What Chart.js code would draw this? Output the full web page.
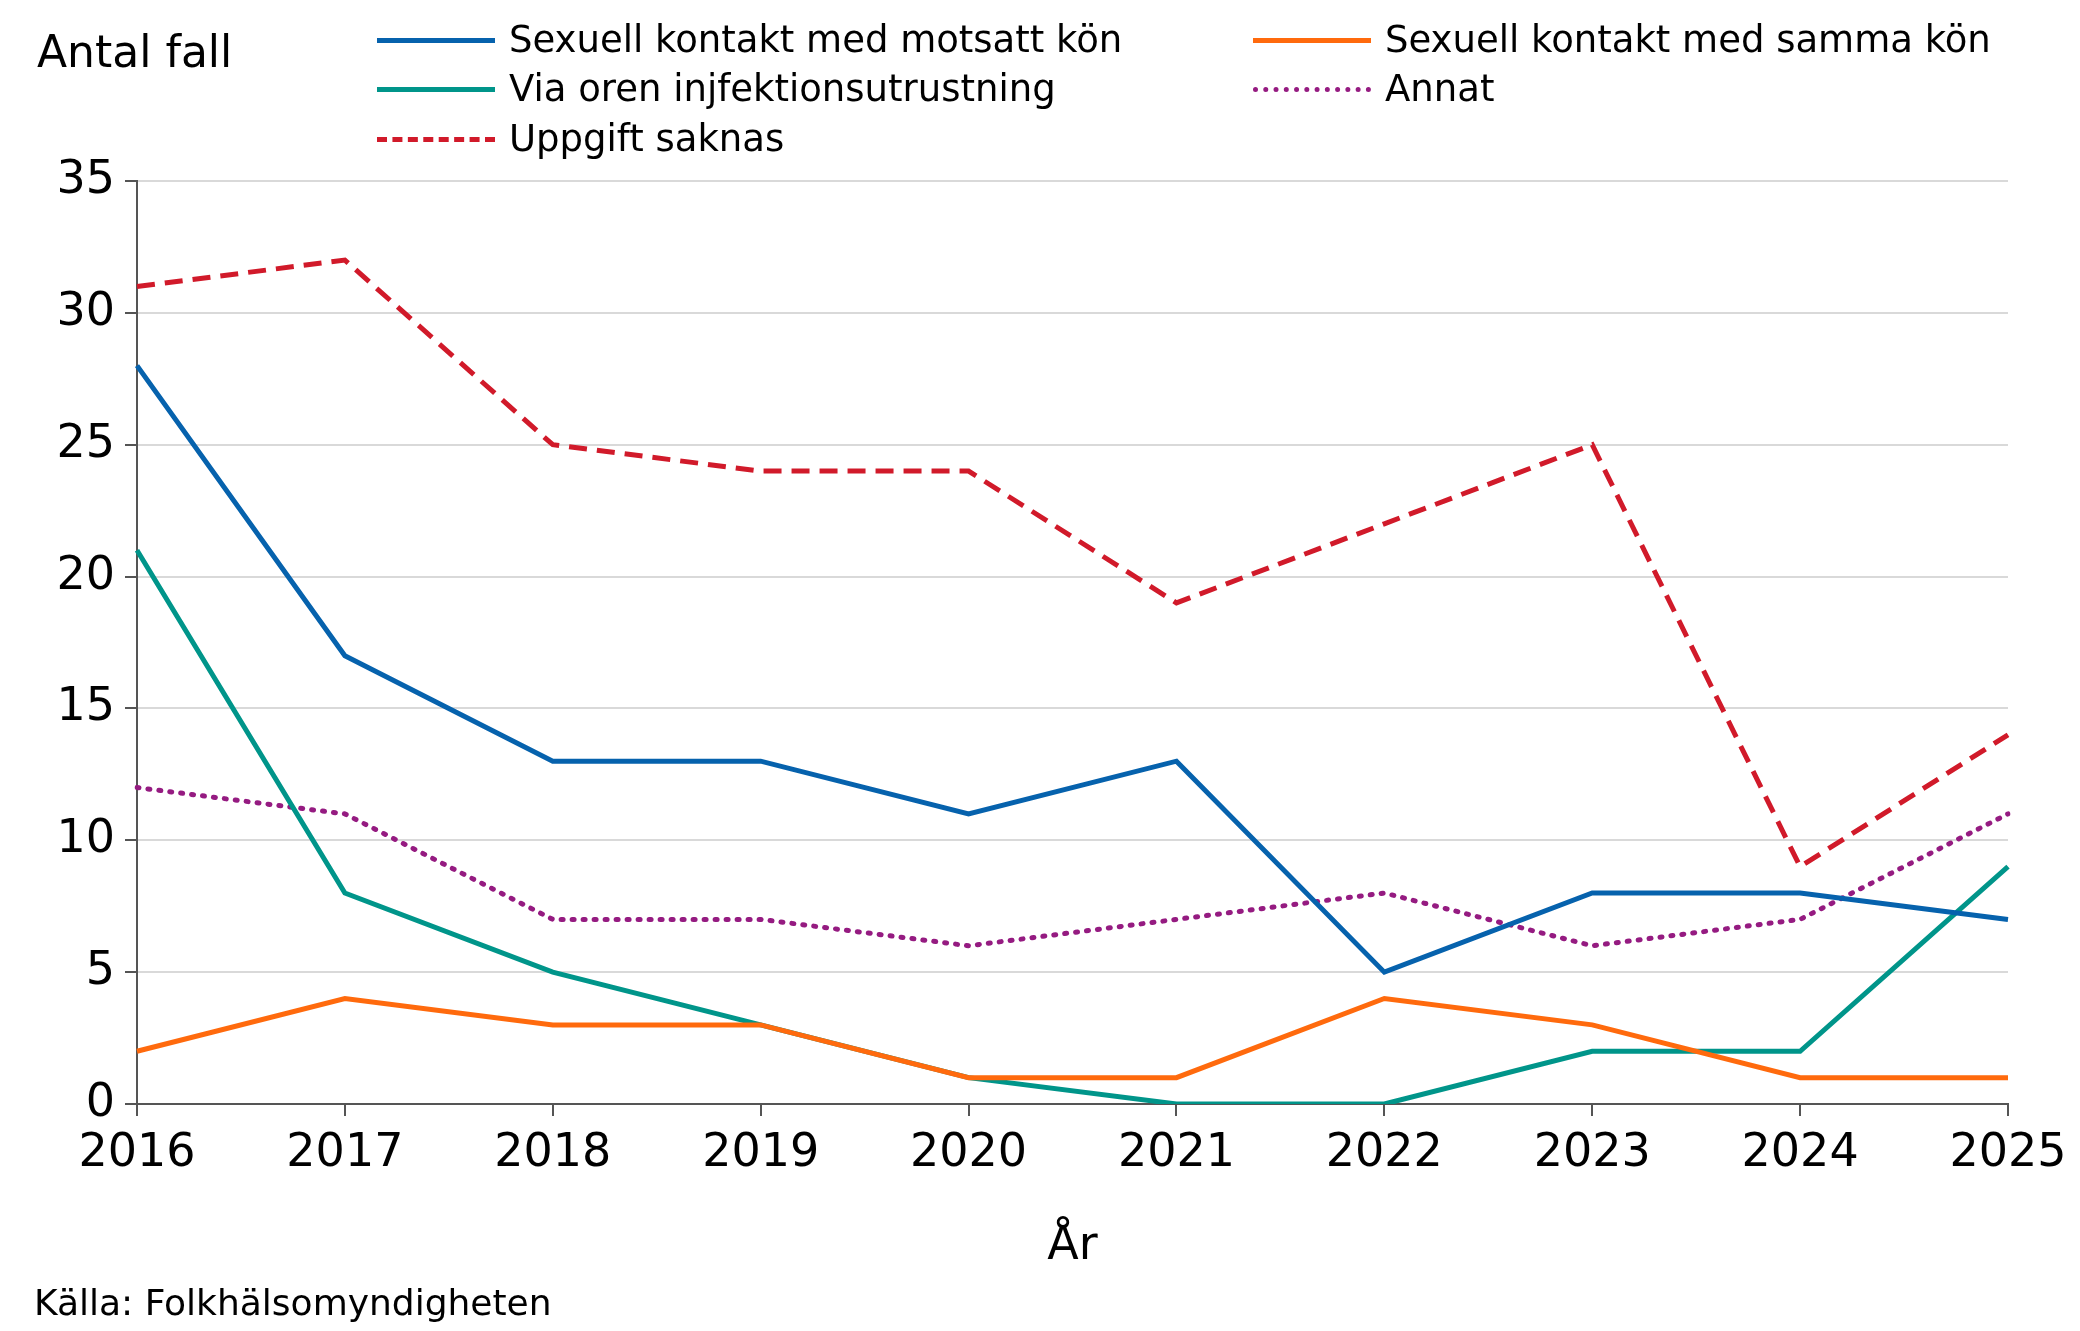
<!DOCTYPE html>
<html>
<head>
<meta charset="utf-8">
<script src="https://cdn.jsdelivr.net/npm/chart.js@4"></script>
<style>
  body { margin: 0; background: #fff; font-family: "DejaVu Sans", sans-serif; }
  #wrap { position: relative; width: 2080px; height: 1331px; }
  canvas { position: absolute; left: 0; top: 0; }
  .txt { position: absolute; color: #000; white-space: nowrap; line-height: 1; }
  .leg { position: absolute; font-size: 37px; line-height: 1; white-space: nowrap; }
  .leg span.line { position: absolute; top: 50%; height: 0; width: 118px; left: 0; }
  .leg span.lab { position: absolute; left: 132px; top: -19px; }
</style>
</head>
<body>
<div id="wrap">
  <canvas id="c" width="2080" height="1331"></canvas>
  <div class="txt" style="left:37px;top:30px;font-size:44px;">Antal fall</div>
  <div id="legend"></div>
  <div class="txt" style="left:34px;top:1285px;font-size:36px;">Källa: Folkhälsomyndigheten</div>
</div>
<script>
// Data
const years = ['2016', '2017', '2018', '2019', '2020', '2021', '2022', '2023', '2024', '2025'];
const motsattKon = [28, 17, 13, 13, 11, 13, 5, 8, 8, 7];
const sammaKon = [2, 4, 3, 3, 1, 1, 4, 3, 1, 1];
const injektion = [21, 8, 5, 3, 1, 0, 0, 2, 2, 9];
const annat = [12, 11, 7, 7, 6, 7, 8, 6, 7, 11];
const uppgiftSaknas = [31, 32, 25, 24, 24, 19, 22, 25, 9, 14];

const series = [
  { label: 'Sexuell kontakt med motsatt kön', data: motsattKon, color: '#0662ad', dash: [], css: 'solid', x: 377, y: 40 },
  { label: 'Sexuell kontakt med samma kön', data: sammaKon, color: '#ff6a0d', dash: [], css: 'solid', x: 1253, y: 40 },
  { label: 'Via oren injfektionsutrustning', data: injektion, color: '#00958a', dash: [], css: 'solid', x: 377, y: 89 },
  { label: 'Annat', data: annat, color: '#951b81', dash: [2, 9], css: 'dotted', x: 1253, y: 89 },
  { label: 'Uppgift saknas', data: uppgiftSaknas, color: '#d11a2a', dash: [18, 10], css: 'dashed', x: 377, y: 139 }
];

// HTML legend
const legend = document.getElementById('legend');
series.forEach(s => {
  const d = document.createElement('div');
  d.className = 'leg';
  d.style.left = s.x + 'px';
  d.style.top = s.y + 'px';
  d.innerHTML = `<span class="line" style="border-top:5px ${s.css} ${s.color};margin-top:-2px"></span><span class="lab">${s.label}</span>`;
  legend.appendChild(d);
});

const FONT = '"DejaVu Sans", sans-serif';

new Chart(document.getElementById('c'), {
  type: 'line',
  data: {
    labels: years,
    datasets: series.map(s => ({
      label: s.label,
      data: s.data,
      borderColor: s.color,
      backgroundColor: s.color,
      borderWidth: 5,
      borderDash: s.dash,
      borderCapStyle: s.css === 'dotted' ? 'round' : 'butt',
      pointRadius: 0,
      tension: 0
    }))
  },
  options: {
    responsive: false,
    animation: false,
    layout: { padding: { left: 0, right: 72, top: 181, bottom: 52 } },
    plugins: { legend: { display: false }, tooltip: { enabled: false } },
    scales: {
      x: {
        offset: false,
        grid: { drawOnChartArea: false, color: '#555', tickLength: 12, lineWidth: 2 },
        border: { color: '#555', width: 2 },
        ticks: { color: '#000', font: { family: FONT, size: 46 }, padding: 10, maxRotation: 0, autoSkip: false },
        title: { display: true, text: 'År', color: '#000', font: { family: FONT, size: 46 }, padding: { top: 8 } },
        afterFit: a => { a.height = 175; }
      },
      y: {
        min: 0, max: 35,
        ticks: { stepSize: 5, color: '#000', font: { family: FONT, size: 46 }, padding: 10 },
        grid: { color: '#d9d9d9', lineWidth: 2, tickLength: 12, tickColor: '#555' },
        border: { color: '#555', width: 2 },
        afterFit: a => { a.width = 137; }
      }
    }
  }
});
</script>
</body>
</html>
